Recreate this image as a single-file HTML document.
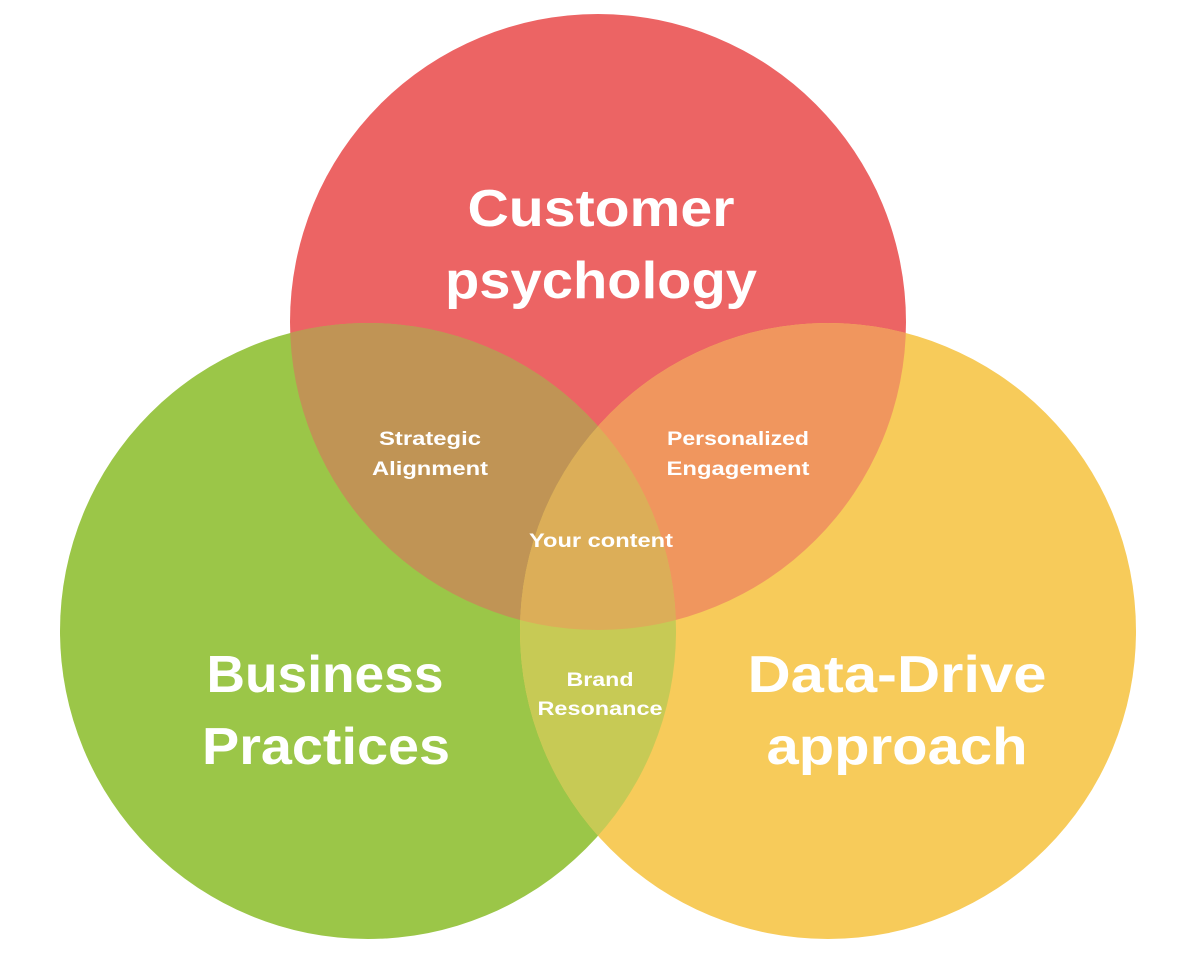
<!DOCTYPE html>
<html><head><meta charset="utf-8"><style>
html,body{margin:0;padding:0;background:#fff;}
svg{display:block;}
text{font-family:"Liberation Sans",sans-serif;font-weight:bold;fill:#fff;text-anchor:middle;}
</style></head><body>
<svg width="1192" height="974" viewBox="0 0 1192 974">
<defs>
<clipPath id="cT"><circle cx="598" cy="322" r="308"/></clipPath>
<clipPath id="cL"><circle cx="368" cy="631" r="308"/></clipPath>
<clipPath id="cR"><circle cx="828" cy="631" r="308"/></clipPath>
</defs>
<circle cx="598" cy="322" r="308" fill="#EC6464"/>
<circle cx="368" cy="631" r="308" fill="#9BC648"/>
<circle cx="828" cy="631" r="308" fill="#F7CB5A"/>
<circle cx="368" cy="631" r="308" fill="#C09455" clip-path="url(#cT)"/>
<circle cx="828" cy="631" r="308" fill="#F0965E" clip-path="url(#cT)"/>
<circle cx="828" cy="631" r="308" fill="#C7CA55" clip-path="url(#cL)"/>
<g clip-path="url(#cT)"><circle cx="828" cy="631" r="308" fill="#DCAE58" clip-path="url(#cL)"/></g>
<text x="601" y="226" font-size="52" textLength="267" lengthAdjust="spacingAndGlyphs">Customer</text>
<text x="601" y="298" font-size="52" textLength="312" lengthAdjust="spacingAndGlyphs">psychology</text>
<text x="325" y="692" font-size="52" textLength="237" lengthAdjust="spacingAndGlyphs">Business</text>
<text x="326" y="764" font-size="52" textLength="248" lengthAdjust="spacingAndGlyphs">Practices</text>
<text x="897" y="692" font-size="52" textLength="299" lengthAdjust="spacingAndGlyphs">Data-Drive</text>
<text x="897" y="764" font-size="52" textLength="261" lengthAdjust="spacingAndGlyphs">approach</text>
<text x="430" y="445" font-size="19" textLength="102" lengthAdjust="spacingAndGlyphs">Strategic</text>
<text x="430" y="475" font-size="19" textLength="116" lengthAdjust="spacingAndGlyphs">Alignment</text>
<text x="738" y="445" font-size="19" textLength="142" lengthAdjust="spacingAndGlyphs">Personalized</text>
<text x="738" y="475" font-size="19" textLength="143" lengthAdjust="spacingAndGlyphs">Engagement</text>
<text x="601" y="547" font-size="19" textLength="144" lengthAdjust="spacingAndGlyphs">Your content</text>
<text x="600" y="686" font-size="19" textLength="67" lengthAdjust="spacingAndGlyphs">Brand</text>
<text x="600" y="715" font-size="19" textLength="125" lengthAdjust="spacingAndGlyphs">Resonance</text>
</svg>
</body></html>
